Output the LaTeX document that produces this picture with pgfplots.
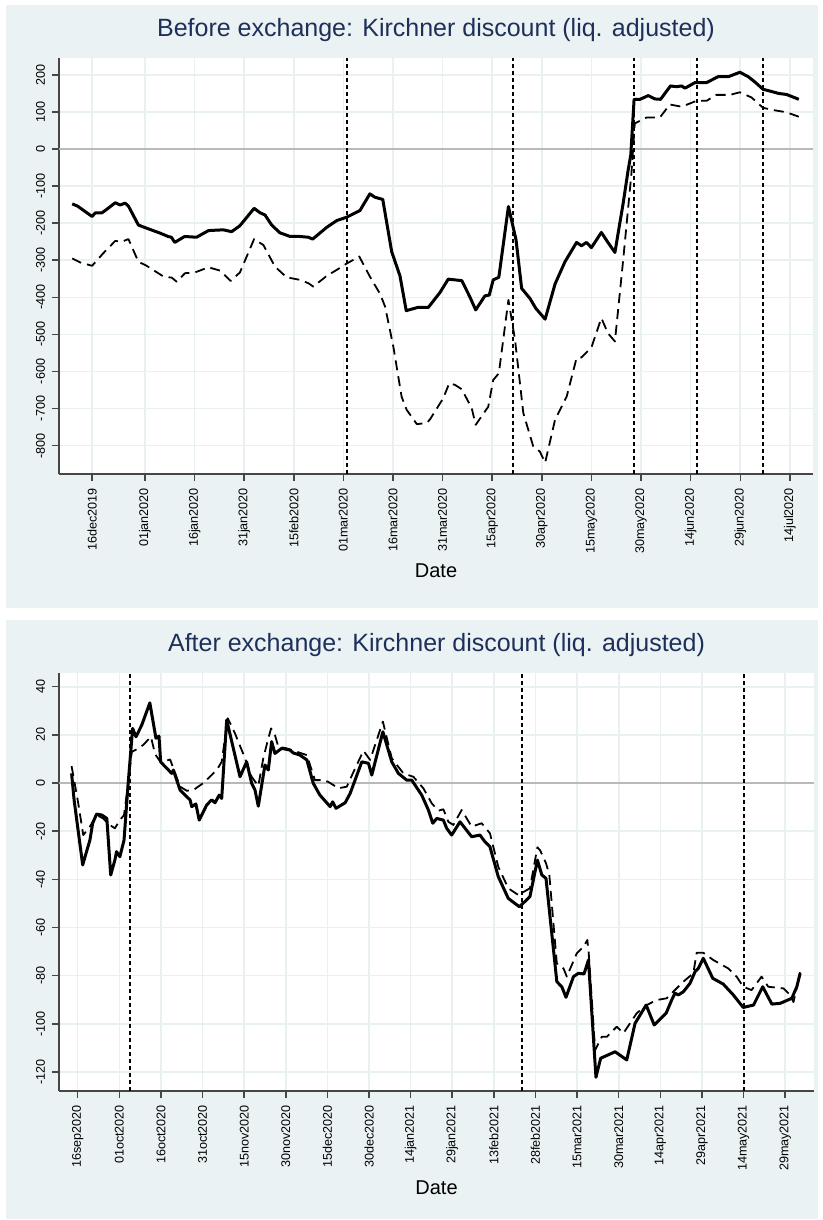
\documentclass[border=0pt]{standalone}
\usepackage{fontspec}
\setmainfont{Liberation Sans}
\usepackage{pgfplots}
\pgfplotsset{compat=1.18}
\definecolor{bgcol}{RGB}{234,242,243}
\definecolor{gridcol}{RGB}{232,240,242}
\definecolor{axcol}{RGB}{70,70,70}
\definecolor{zerocol}{RGB}{185,185,185}
\definecolor{titcol}{RGB}{30,48,90}
\pgfplotsset{
  kstyle/.style={
    scale only axis,
    anchor=south west,
    axis lines*=left,
    axis background/.style={fill=white},
    axis line style={color=axcol, line width=0.75pt},
    tick style={color=axcol, line width=0.75pt},
    tick align=outside,
    major tick length=3.5pt,
    grid=major,
    major grid style={color=gridcol, line width=0.8pt},
    xticklabel style={rotate=90, anchor=east, font=\fontsize{6.3pt}{7pt}\selectfont},
    yticklabel style={rotate=90, anchor=south, font=\fontsize{6.3pt}{7pt}\selectfont},
    /pgf/number format/assume math mode=true,
    scaled ticks=false,
    title style={at={(axis description cs:0.5,1)}, anchor=base, yshift=4.5pt, font=\fontsize{12.5pt}{14pt}\selectfont, text=titcol},
    xlabel style={at={(axis description cs:0.5,0)}, anchor=base, yshift=-51.8pt, font=\fontsize{10pt}{12pt}\selectfont},
    xlabel={Date},
  },
  ser/.style={black, line width=1.5pt, line join=round},
  serd/.style={black, line width=0.9pt, dash pattern=on 5pt off 3pt, line join=round},
  vl/.style={black, line width=1pt, dash pattern=on 2pt off 1.5pt},
  zl/.style={zerocol, line width=1pt},
}
\begin{document}
\begin{tikzpicture}
\useasboundingbox (0,0) rectangle (411.5pt,610pt);
\fill[white] (0,0) rectangle (411.5pt,610pt);
\fill[bgcol] (3pt,306pt) rectangle (409pt,607.5pt);
\fill[bgcol] (3pt,0.5pt) rectangle (409pt,300pt);

\begin{axis}[kstyle,
  at={(29.5pt,373pt)}, width=377pt, height=208pt,
  xmin=-10, xmax=218, ymin=-876.5, ymax=245.4,
  xtick={0,16,31,46,61,76,91,106,121,136,151,166,181,196,211},
  xticklabels={16dec2019,01jan2020,16jan2020,31jan2020,15feb2020,01mar2020,16mar2020,31mar2020,15apr2020,30apr2020,15may2020,30may2020,14jun2020,29jun2020,14jul2020},
  ytick={-800,-700,-600,-500,-400,-300,-200,-100,0,100,200},
  title={Before exchange: Kirchner discount (liq. adjusted)},
]
\addplot[zl] coordinates {(-10,0) (218,0)};
\addplot[vl] coordinates {(77,-876.5) (77,245.4)};
\addplot[vl] coordinates {(127.2,-876.5) (127.2,245.4)};
\addplot[vl] coordinates {(164,-876.5) (164,245.4)};
\addplot[vl] coordinates {(183,-876.5) (183,245.4)};
\addplot[vl] coordinates {(203,-876.5) (203,245.4)};
\addplot[serd] table {
d v
-6 -295
-3.6 -306
0 -315
3.4 -281
7 -248
9 -250
11 -243
14 -304
16.5 -315
21.6 -344
24.1 -347
25.6 -358
28.1 -335
31.1 -333
35.2 -319
38.7 -328
41.9 -356
44.7 -333
49 -243
51.8 -259
55.3 -317
58.8 -346
62.9 -353
65.4 -362
66.9 -371
71 -342
74 -326
76.8 -310
80.8 -290
84 -344
87.1 -391
88.6 -425
91.1 -533
93.6 -668
95.1 -703
98.2 -742
101.2 -739
102.2 -729
106.2 -672
108 -632
109.7 -636
111.8 -648
114.8 -699
116 -744
119.8 -695
121.3 -623
123 -605
125.9 -407
127.9 -515
130.4 -712
133.4 -802
135.4 -816
137 -846
140 -730
143.5 -668
146.5 -564
148 -562
151 -535
154 -456
156 -497
158.1 -519
160.6 -299
163.1 -66
164.1 69
167.7 85
171.7 85
174.7 120
178.3 114
182.8 130
185.8 130
188.8 146
192.9 146
195.9 153
199.4 139
202.9 111
206 105
210 99
213.7 87
};
\addplot[ser] table {
d v
-6 -148
-4.4 -154
0 -182
1 -172
3 -172
4.4 -163
7 -145
8.5 -151
10 -146
11 -154
14 -205
16 -212
20.6 -227
23 -236
24 -238
25 -252
28 -236
31.6 -238
35.2 -220
39.7 -218
42.2 -223
44.7 -207
49 -160
50.8 -172
52.3 -178
54.3 -205
56.8 -226
59.9 -236
62.9 -236
65.4 -238
66.7 -243
71 -211
74 -193
77 -184
81 -166
84 -121
85.5 -130
87.9 -136
90.6 -277
93.1 -342
95 -436
98.6 -427
101.7 -427
105.2 -387
107.7 -351
111.8 -355
114.3 -400
116 -434
118.8 -396
120.1 -394
121.3 -353
123 -346
125.9 -155
128.2 -245
129.9 -376
132.4 -403
134.2 -430
137 -459
140 -364
143 -304
146.5 -252
148 -261
149.5 -252
151 -266
154 -225
156 -252
158.1 -279
160.6 -146
162.1 -57
162.9 -16
163.9 134
165.7 134
168.2 144
170.2 135
171.9 134
174.9 170
176.7 168
178.3 170
179.3 164
182.3 179
185.8 179
189.3 195
192.4 195
195.9 207
198.4 195
200.4 181
202.9 161
205.5 155
207.5 150
210 147
213.7 134
};
\end{axis}

\begin{axis}[kstyle,
  at={(29.5pt,64.5pt)}, width=377.5pt, height=209pt,
  xmin=-6.74, xmax=265.4, ymin=-127.9, ymax=45.7,
  xtick={0,15,30,45,60,75,90,105,120,135,150,165,180,195,210,225,240,255},
  xticklabels={16sep2020,01oct2020,16oct2020,31oct2020,15nov2020,30nov2020,15dec2020,30dec2020,14jan2021,29jan2021,13feb2021,28feb2021,15mar2021,30mar2021,14apr2021,29apr2021,14may2021,29may2021},
  ytick={-120,-100,-80,-60,-40,-20,0,20,40},
  title={After exchange: Kirchner discount (liq. adjusted)},
]
\addplot[zl] coordinates {(-6.74,0) (265.4,0)};
\addplot[vl] coordinates {(19,-127.9) (19,45.7)};
\addplot[vl] coordinates {(160,-127.9) (160,45.7)};
\addplot[vl] coordinates {(240,-127.9) (240,45.7)};
\addplot[serd] table {
d v
-2.2 7
0.2 -8.4
2 -21.6
4.4 -18.1
6.8 -13.3
9.2 -14.7
11 -17
13.4 -18.8
15.2 -15.4
16.7 -13.3
18.2 0
19.5 13
21.3 14
23.6 15.8
26.4 19.2
27.9 12
30 8.5
33.3 9.8
36.9 -1.5
39.3 -3.2
41.7 -2.9
45.3 0
50.1 5.4
51.9 8.8
54.1 26.9
56.7 20.6
60.3 10.3
62.7 2.6
65.1 -1.2
66.9 10.3
68.4 17.2
69.7 22.7
71.1 19.9
72.3 15.1
75.3 14.4
78.9 13
82.6 11.6
85.5 1.2
88.5 1.2
90.3 0.5
92.1 -0.8
93.9 -2.2
97 -1.5
100 6.1
103 13.4
105.4 9.6
110 25.5
113.2 10.3
117.4 4
121 2.6
124.6 -2.2
127.6 -8.4
130 -11.5
131.8 -10.9
133.6 -16.1
135.4 -17.4
138.4 -11.2
142 -18.1
145.6 -16.7
148.6 -20.9
151.6 -34.8
155.2 -43.7
158.8 -46.5
163 -43.7
165.7 -26.7
166.7 -28
168.8 -33.3
170 -38.2
172.7 -74.9
175.1 -77
176.3 -80.4
179.9 -70.7
182.3 -68
183.7 -65.2
184.2 -70.7
186.5 -110.9
188.9 -105.4
190.7 -105.4
194.3 -101.2
196.7 -103.9
201.5 -95.6
205.1 -92.2
208.7 -90.1
212.3 -89.4
218.3 -82.5
221.9 -79
223.1 -70.5
225.5 -70.5
229.1 -73.5
234.5 -77
237.5 -80.4
239.9 -84.6
242.9 -86
246.5 -80.4
248.9 -84.6
254.4 -85.3
256.8 -88
258 -91
260.4 -78.6
};
\addplot[ser] table {
d v
-2.2 4
-1.3 -7
1.8 -34
4.4 -23.7
5.4 -16.7
6.8 -12.9
8.7 -13.3
10.5 -14.7
11.9 -38.2
13.4 -32
14 -28.5
15.2 -30.6
16.7 -23.7
18.2 0
19.8 22.7
21 19.2
23.1 24.1
26 33.3
28.2 18.6
29.3 19.5
29.9 8.8
32.1 6.1
33.9 4
34.5 5.4
36.9 -2.9
38.7 -5
40.5 -7
41.1 -9.8
42.6 -8.7
43.8 -15.4
46.5 -9.1
48.3 -7
49.5 -8.2
51 -5
51.9 -6.4
53.7 26.2
58.5 2.6
60.9 8.8
62.7 -0.1
63.9 -2.9
65.1 -9.6
67.5 7.5
68.7 5.4
69.9 17.2
71.1 12.3
73.5 14.4
76.5 13.7
77.7 12.5
80.1 11.6
82.6 9.6
84.9 -0.1
87.3 -5
91 -9.8
91.9 -7.8
93.1 -10.5
96.4 -8.2
98.2 -4.3
102.4 8.8
104.8 8.2
106 3.3
110 21.3
113.2 8.8
115.6 4
118.6 1.2
120.4 1.2
124 -5
126.4 -11.2
128 -16.7
129.4 -14.7
131.8 -15.4
133 -18.8
134.8 -21.6
137.8 -16.1
142 -22.3
145 -21.6
146.8 -24.4
148.6 -26.5
151.6 -38.9
155.2 -47.9
159.2 -51.4
163 -47.2
165.7 -32
167.3 -38.2
168.8 -39.6
172.7 -82.5
174.5 -84.6
176 -89
178.7 -80.4
180.5 -79
182.5 -79.3
184.1 -73.5
186.8 -122.2
188.5 -114.3
193.7 -111.6
197.9 -115
200.9 -99.8
204.9 -92.2
207.8 -100.5
212.1 -95.6
214.1 -90.1
215.3 -87.3
216.5 -88
218.3 -86.7
220.7 -83.2
222.5 -78.4
223.7 -77
225.5 -72.8
228.9 -81.1
232.7 -83.5
236.3 -88
239.9 -93.2
243.6 -92.2
246.9 -84.6
250.2 -91.8
253.2 -91.5
257.4 -89.4
259.2 -84.6
260.4 -79
};
\end{axis}
\end{tikzpicture}
\end{document}
